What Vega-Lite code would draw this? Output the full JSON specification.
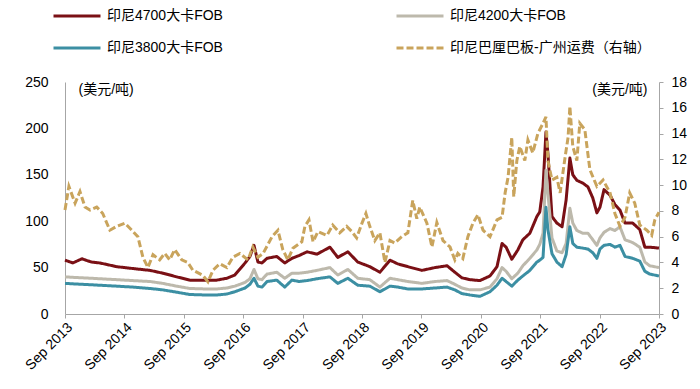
{
  "$schema": "https://vega.github.io/schema/vega-lite/v6.json",
  "width": 594,
  "height": 232,
  "autosize": {"type": "none"},
  "padding": {"left": 65, "top": 82, "right": 41, "bottom": 75},
  "config": {
    "view": {"stroke": null},
    "font": "Liberation Sans, Noto Sans CJK SC",
    "axis": {"labelFont": "Liberation Sans, Noto Sans CJK SC", "titleFont": "Liberation Sans, Noto Sans CJK SC", "labelColor": "#000000", "titleColor": "#000000", "domainColor": "#A6A6A6", "tickColor": "#A6A6A6", "grid": false, "labelFontSize": 14, "titleFontSize": 14, "titleFontWeight": "normal"},
    "legend": {"labelFont": "Liberation Sans, Noto Sans CJK SC", "labelFontSize": 14, "labelColor": "#000000", "labelLimit": 320}
  },
  "datasets": {
    "coal": [
      {"date": "2013-09-01", "印尼4700大卡FOB": 58, "印尼4200大卡FOB": 40, "印尼3800大卡FOB": 33},
      {"date": "2013-10-19", "印尼4700大卡FOB": 55, "印尼4200大卡FOB": 39.5, "印尼3800大卡FOB": 32.5},
      {"date": "2013-12-14", "印尼4700大卡FOB": 59.5, "印尼4200大卡FOB": 39, "印尼3800大卡FOB": 32},
      {"date": "2014-02-10", "印尼4700大卡FOB": 56, "印尼4200大卡FOB": 38.5, "印尼3800大卡FOB": 31.5},
      {"date": "2014-04-03", "印尼4700大卡FOB": 55, "印尼4200大卡FOB": 38, "印尼3800大卡FOB": 31},
      {"date": "2014-07-16", "印尼4700大卡FOB": 51, "印尼4200大卡FOB": 37, "印尼3800大卡FOB": 30},
      {"date": "2014-10-23", "印尼4700大卡FOB": 49, "印尼4200大卡FOB": 36, "印尼3800大卡FOB": 29},
      {"date": "2015-02-06", "印尼4700大卡FOB": 47, "印尼4200大卡FOB": 35, "印尼3800大卡FOB": 27.5},
      {"date": "2015-04-25", "印尼4700大卡FOB": 44, "印尼4200大卡FOB": 33, "印尼3800大卡FOB": 26},
      {"date": "2015-07-20", "印尼4700大卡FOB": 40, "印尼4200大卡FOB": 30, "印尼3800大卡FOB": 23.5},
      {"date": "2015-10-08", "印尼4700大卡FOB": 36.5, "印尼4200大卡FOB": 27.5, "印尼3800大卡FOB": 21},
      {"date": "2016-01-09", "印尼4700大卡FOB": 36.5, "印尼4200大卡FOB": 27, "印尼3800大卡FOB": 20.5},
      {"date": "2016-03-22", "印尼4700大卡FOB": 36.5, "印尼4200大卡FOB": 27, "印尼3800大卡FOB": 20.5},
      {"date": "2016-05-23", "印尼4700大卡FOB": 38.5, "印尼4200大卡FOB": 28, "印尼3800大卡FOB": 21.5},
      {"date": "2016-07-11", "印尼4700大卡FOB": 42, "印尼4200大卡FOB": 30, "印尼3800大卡FOB": 24},
      {"date": "2016-09-12", "印尼4700大卡FOB": 55, "印尼4200大卡FOB": 34, "印尼3800大卡FOB": 28},
      {"date": "2016-10-12", "印尼4700大卡FOB": 62, "印尼4200大卡FOB": 38, "印尼3800大卡FOB": 32},
      {"date": "2016-11-06", "印尼4700大卡FOB": 74, "印尼4200大卡FOB": 48, "印尼3800大卡FOB": 38.5},
      {"date": "2016-11-30", "印尼4700大卡FOB": 56, "印尼4200大卡FOB": 38, "印尼3800大卡FOB": 30},
      {"date": "2016-12-25", "印尼4700大卡FOB": 55, "印尼4200大卡FOB": 37, "印尼3800大卡FOB": 29},
      {"date": "2017-01-25", "印尼4700大卡FOB": 60, "印尼4200大卡FOB": 43, "印尼3800大卡FOB": 35},
      {"date": "2017-03-26", "印尼4700大卡FOB": 62, "印尼4200大卡FOB": 45, "印尼3800大卡FOB": 36.5},
      {"date": "2017-05-14", "印尼4700大卡FOB": 55, "印尼4200大卡FOB": 38.5, "印尼3800大卡FOB": 29},
      {"date": "2017-06-27", "印尼4700大卡FOB": 60, "印尼4200大卡FOB": 44, "印尼3800大卡FOB": 36.5},
      {"date": "2017-08-10", "印尼4700大卡FOB": 63, "印尼4200大卡FOB": 44, "印尼3800大卡FOB": 35},
      {"date": "2017-09-28", "印尼4700大卡FOB": 67, "印尼4200大卡FOB": 45, "印尼3800大卡FOB": 36},
      {"date": "2017-11-28", "印尼4700大卡FOB": 64.5, "印尼4200大卡FOB": 47, "印尼3800大卡FOB": 38},
      {"date": "2018-02-16", "印尼4700大卡FOB": 72, "印尼4200大卡FOB": 50, "印尼3800大卡FOB": 40},
      {"date": "2018-04-05", "印尼4700大卡FOB": 61, "印尼4200大卡FOB": 42, "印尼3800大卡FOB": 33},
      {"date": "2018-06-06", "印尼4700大卡FOB": 67, "印尼4200大卡FOB": 48, "印尼3800大卡FOB": 38.5},
      {"date": "2018-08-06", "印尼4700大卡FOB": 56, "印尼4200大卡FOB": 38.5, "印尼3800大卡FOB": 31},
      {"date": "2018-10-19", "印尼4700大卡FOB": 51, "印尼4200大卡FOB": 37, "印尼3800大卡FOB": 30},
      {"date": "2018-12-20", "印尼4700大卡FOB": 45, "印尼4200大卡FOB": 29, "印尼3800大卡FOB": 24},
      {"date": "2019-02-20", "印尼4700大卡FOB": 58, "印尼4200大卡FOB": 38.5, "印尼3800大卡FOB": 30},
      {"date": "2019-04-09", "印尼4700大卡FOB": 54, "印尼4200大卡FOB": 37, "印尼3800大卡FOB": 29},
      {"date": "2019-06-10", "印尼4700大卡FOB": 51, "印尼4200大卡FOB": 35, "印尼3800大卡FOB": 27},
      {"date": "2019-09-04", "印尼4700大卡FOB": 47, "印尼4200大卡FOB": 33, "印尼3800大卡FOB": 27},
      {"date": "2019-11-23", "印尼4700大卡FOB": 50, "印尼4200大卡FOB": 35, "印尼3800大卡FOB": 28},
      {"date": "2020-02-06", "印尼4700大卡FOB": 52, "印尼4200大卡FOB": 36, "印尼3800大卡FOB": 29},
      {"date": "2020-03-25", "印尼4700大卡FOB": 45, "印尼4200大卡FOB": 32, "印尼3800大卡FOB": 26},
      {"date": "2020-05-07", "印尼4700大卡FOB": 39, "印尼4200大卡FOB": 28, "印尼3800大卡FOB": 22},
      {"date": "2020-06-25", "印尼4700大卡FOB": 37, "印尼4200大卡FOB": 26, "印尼3800大卡FOB": 20.5},
      {"date": "2020-08-26", "印尼4700大卡FOB": 36, "印尼4200大卡FOB": 26, "印尼3800大卡FOB": 19},
      {"date": "2020-10-27", "印尼4700大卡FOB": 41, "印尼4200大卡FOB": 29, "印尼3800大卡FOB": 24},
      {"date": "2020-12-09", "印尼4700大卡FOB": 51, "印尼4200大卡FOB": 38, "印尼3800大卡FOB": 31},
      {"date": "2021-01-09", "印尼4700大卡FOB": 76, "印尼4200大卡FOB": 50, "印尼3800大卡FOB": 38.5},
      {"date": "2021-02-03", "印尼4700大卡FOB": 72, "印尼4200大卡FOB": 46, "印尼3800大卡FOB": 35},
      {"date": "2021-03-10", "印尼4700大卡FOB": 59, "印尼4200大卡FOB": 38, "印尼3800大卡FOB": 30},
      {"date": "2021-04-16", "印尼4700大卡FOB": 69, "印尼4200大卡FOB": 44, "印尼3800大卡FOB": 36.5},
      {"date": "2021-05-17", "印尼4700大卡FOB": 80, "印尼4200大卡FOB": 52, "印尼3800大卡FOB": 41},
      {"date": "2021-06-29", "印尼4700大卡FOB": 87, "印尼4200大卡FOB": 60, "印尼3800大卡FOB": 47},
      {"date": "2021-08-11", "印尼4700大卡FOB": 105, "印尼4200大卡FOB": 69, "印尼3800大卡FOB": 56},
      {"date": "2021-08-29", "印尼4700大卡FOB": 110, "印尼4200大卡FOB": 75, "印尼3800大卡FOB": 58},
      {"date": "2021-09-18", "印尼4700大卡FOB": 137, "印尼4200大卡FOB": 87, "印尼3800大卡FOB": 61},
      {"date": "2021-10-06", "印尼4700大卡FOB": 196, "印尼4200大卡FOB": 155, "印尼3800大卡FOB": 115},
      {"date": "2021-10-18", "印尼4700大卡FOB": 173, "印尼4200大卡FOB": 130, "印尼3800大卡FOB": 91},
      {"date": "2021-11-12", "印尼4700大卡FOB": 105, "印尼4200大卡FOB": 82, "印尼3800大卡FOB": 65},
      {"date": "2021-12-12", "印尼4700大卡FOB": 98, "印尼4200大卡FOB": 68, "印尼3800大卡FOB": 56},
      {"date": "2022-01-13", "印尼4700大卡FOB": 94, "印尼4200大卡FOB": 66, "印尼3800大卡FOB": 51},
      {"date": "2022-02-07", "印尼4700大卡FOB": 123, "印尼4200大卡FOB": 76, "印尼3800大卡FOB": 64},
      {"date": "2022-03-02", "印尼4700大卡FOB": 168, "印尼4200大卡FOB": 114, "印尼3800大卡FOB": 94},
      {"date": "2022-03-20", "印尼4700大卡FOB": 150, "印尼4200大卡FOB": 98, "印尼3800大卡FOB": 76},
      {"date": "2022-04-14", "印尼4700大卡FOB": 144, "印尼4200大卡FOB": 90, "印尼3800大卡FOB": 72},
      {"date": "2022-05-21", "印尼4700大卡FOB": 141, "印尼4200大卡FOB": 87, "印尼3800大卡FOB": 71},
      {"date": "2022-06-21", "印尼4700大卡FOB": 137, "印尼4200大卡FOB": 87, "印尼3800大卡FOB": 70},
      {"date": "2022-07-21", "印尼4700大卡FOB": 125, "印尼4200大卡FOB": 80, "印尼3800大卡FOB": 66},
      {"date": "2022-08-15", "印尼4700大卡FOB": 109, "印尼4200大卡FOB": 74, "印尼3800大卡FOB": 60},
      {"date": "2022-09-03", "印尼4700大卡FOB": 115, "印尼4200大卡FOB": 82, "印尼3800大卡FOB": 70},
      {"date": "2022-09-28", "印尼4700大卡FOB": 134, "印尼4200大卡FOB": 88, "印尼3800大卡FOB": 74},
      {"date": "2022-11-04", "印尼4700大卡FOB": 128, "印尼4200大卡FOB": 92, "印尼3800大卡FOB": 75},
      {"date": "2022-12-04", "印尼4700大卡FOB": 118, "印尼4200大卡FOB": 90, "印尼3800大卡FOB": 72},
      {"date": "2023-01-04", "印尼4700大卡FOB": 112, "印尼4200大卡FOB": 94, "印尼3800大卡FOB": 74},
      {"date": "2023-02-04", "印尼4700大卡FOB": 98, "印尼4200大卡FOB": 80, "印尼3800大卡FOB": 62},
      {"date": "2023-03-23", "印尼4700大卡FOB": 98, "印尼4200大卡FOB": 77, "印尼3800大卡FOB": 60},
      {"date": "2023-05-06", "印尼4700大卡FOB": 91, "印尼4200大卡FOB": 72, "印尼3800大卡FOB": 57},
      {"date": "2023-06-06", "印尼4700大卡FOB": 72, "印尼4200大卡FOB": 56, "印尼3800大卡FOB": 46},
      {"date": "2023-07-06", "印尼4700大卡FOB": 72, "印尼4200大卡FOB": 52, "印尼3800大卡FOB": 43},
      {"date": "2023-09-01", "印尼4700大卡FOB": 71, "印尼4200大卡FOB": 50, "印尼3800大卡FOB": 41}
    ],
    "freight": [
      {"date": "2013-09-01", "value": 8.07}, {"date": "2013-09-25", "value": 9.9}, {"date": "2013-11-02", "value": 8.6},
      {"date": "2013-12-02", "value": 9.5}, {"date": "2014-01-02", "value": 8.3}, {"date": "2014-02-02", "value": 8.07},
      {"date": "2014-03-15", "value": 8.3}, {"date": "2014-04-21", "value": 7.8}, {"date": "2014-06-04", "value": 6.5},
      {"date": "2014-07-16", "value": 6.8}, {"date": "2014-09-04", "value": 7.05}, {"date": "2014-10-17", "value": 6.5},
      {"date": "2014-11-23", "value": 6.0}, {"date": "2014-12-24", "value": 4.4}, {"date": "2015-01-24", "value": 3.6},
      {"date": "2015-02-24", "value": 4.6}, {"date": "2015-04-06", "value": 4.2}, {"date": "2015-05-07", "value": 4.7},
      {"date": "2015-06-07", "value": 4.2}, {"date": "2015-07-07", "value": 5.0}, {"date": "2015-08-20", "value": 4.2},
      {"date": "2015-09-26", "value": 4.0}, {"date": "2015-10-27", "value": 3.4}, {"date": "2015-12-27", "value": 3.0},
      {"date": "2016-01-28", "value": 2.5}, {"date": "2016-02-28", "value": 3.4}, {"date": "2016-04-10", "value": 3.9},
      {"date": "2016-05-23", "value": 3.6}, {"date": "2016-06-29", "value": 4.4}, {"date": "2016-08-11", "value": 4.7},
      {"date": "2016-09-30", "value": 4.2}, {"date": "2016-10-30", "value": 5.2}, {"date": "2016-11-30", "value": 4.4},
      {"date": "2017-01-01", "value": 4.7}, {"date": "2017-02-25", "value": 6.0}, {"date": "2017-04-02", "value": 6.5},
      {"date": "2017-05-02", "value": 5.0}, {"date": "2017-06-02", "value": 4.2}, {"date": "2017-07-03", "value": 5.1},
      {"date": "2017-08-27", "value": 5.6}, {"date": "2017-09-15", "value": 6.8}, {"date": "2017-10-10", "value": 7.3},
      {"date": "2017-11-04", "value": 5.6}, {"date": "2017-12-04", "value": 6.4}, {"date": "2018-01-29", "value": 6.1},
      {"date": "2018-03-05", "value": 6.9}, {"date": "2018-04-17", "value": 6.3}, {"date": "2018-05-30", "value": 6.8},
      {"date": "2018-06-30", "value": 6.4}, {"date": "2018-07-30", "value": 5.9}, {"date": "2018-09-01", "value": 7.05},
      {"date": "2018-09-25", "value": 7.8}, {"date": "2018-10-19", "value": 6.8}, {"date": "2018-11-19", "value": 5.7},
      {"date": "2018-12-20", "value": 6.3}, {"date": "2019-01-20", "value": 4.0}, {"date": "2019-02-20", "value": 5.7},
      {"date": "2019-03-21", "value": 5.5}, {"date": "2019-05-03", "value": 6.0}, {"date": "2019-06-10", "value": 6.3},
      {"date": "2019-07-10", "value": 8.8}, {"date": "2019-08-04", "value": 7.4}, {"date": "2019-08-22", "value": 8.3},
      {"date": "2019-10-05", "value": 7.05}, {"date": "2019-11-05", "value": 5.2}, {"date": "2019-12-05", "value": 7.1},
      {"date": "2020-01-12", "value": 5.7}, {"date": "2020-02-24", "value": 5.2}, {"date": "2020-03-25", "value": 4.2},
      {"date": "2020-04-12", "value": 4.7}, {"date": "2020-05-13", "value": 4.3}, {"date": "2020-06-13", "value": 6.0},
      {"date": "2020-07-14", "value": 7.05}, {"date": "2020-08-14", "value": 7.7}, {"date": "2020-09-14", "value": 6.5},
      {"date": "2020-10-27", "value": 6.0}, {"date": "2020-12-09", "value": 7.3}, {"date": "2021-01-09", "value": 7.5},
      {"date": "2021-01-28", "value": 9.4}, {"date": "2021-02-15", "value": 10.6}, {"date": "2021-03-10", "value": 13.7},
      {"date": "2021-03-22", "value": 9.1}, {"date": "2021-04-10", "value": 11.9}, {"date": "2021-04-28", "value": 13.0},
      {"date": "2021-05-29", "value": 11.9}, {"date": "2021-06-17", "value": 13.5}, {"date": "2021-07-17", "value": 12.5},
      {"date": "2021-08-17", "value": 14.0}, {"date": "2021-09-18", "value": 14.8}, {"date": "2021-10-06", "value": 15.3},
      {"date": "2021-10-18", "value": 11.9}, {"date": "2021-11-12", "value": 10.4}, {"date": "2021-12-12", "value": 10.6},
      {"date": "2022-01-01", "value": 9.4}, {"date": "2022-02-01", "value": 12.2}, {"date": "2022-02-19", "value": 13.7},
      {"date": "2022-03-02", "value": 16.1}, {"date": "2022-03-20", "value": 13.0}, {"date": "2022-04-14", "value": 11.9},
      {"date": "2022-05-02", "value": 14.8}, {"date": "2022-06-02", "value": 14.3}, {"date": "2022-07-03", "value": 11.2},
      {"date": "2022-08-15", "value": 9.9}, {"date": "2022-09-22", "value": 10.4}, {"date": "2022-11-04", "value": 9.4},
      {"date": "2022-12-04", "value": 7.8}, {"date": "2023-01-04", "value": 6.8}, {"date": "2023-02-04", "value": 7.5},
      {"date": "2023-03-05", "value": 9.4}, {"date": "2023-04-05", "value": 8.6}, {"date": "2023-05-06", "value": 6.9},
      {"date": "2023-06-18", "value": 6.5}, {"date": "2023-07-18", "value": 6.1}, {"date": "2023-08-06", "value": 7.3},
      {"date": "2023-09-01", "value": 7.9}
    ]
  },
  "layer": [
    {
      "data": {"name": "coal"},
      "transform": [{"fold": ["印尼4700大卡FOB", "印尼4200大卡FOB", "印尼3800大卡FOB"], "as": ["series", "value"]}],
      "mark": {"type": "line", "strokeWidth": 3, "strokeJoin": "round"},
      "encoding": {
        "x": {
          "field": "date", "type": "temporal",
          "scale": {"domain": [{"year": 2013, "month": 9, "date": 1}, {"year": 2023, "month": 9, "date": 1}]},
          "axis": {
            "title": null, "format": "%b %Y", "labelAngle": -45, "tickSize": 4, "labelPadding": 2,
            "values": [{"year": 2013, "month": 9, "date": 1}, {"year": 2014, "month": 9, "date": 1}, {"year": 2015, "month": 9, "date": 1}, {"year": 2016, "month": 9, "date": 1}, {"year": 2017, "month": 9, "date": 1}, {"year": 2018, "month": 9, "date": 1}, {"year": 2019, "month": 9, "date": 1}, {"year": 2020, "month": 9, "date": 1}, {"year": 2021, "month": 9, "date": 1}, {"year": 2022, "month": 9, "date": 1}, {"year": 2023, "month": 9, "date": 1}]
          }
        },
        "y": {
          "field": "value", "type": "quantitative",
          "scale": {"domain": [0, 250]},
          "axis": {"title": "(美元/吨)", "titleAngle": 0, "titleX": 13, "titleY": 7, "titleAlign": "left", "titleBaseline": "middle", "values": [0, 50, 100, 150, 200, 250], "ticks": false, "labelPadding": 17}
        },
        "color": {
          "field": "series", "type": "nominal",
          "scale": {"domain": ["印尼4700大卡FOB", "印尼4200大卡FOB", "印尼3800大卡FOB", "印尼巴厘巴板-广州运费（右轴）"], "range": ["#7A1015", "#BDB9AC", "#3C8FA3", "#C9A45C"]},
          "legend": {"title": null, "orient": "none", "direction": "horizontal", "legendX": -13, "legendY": -91, "columns": 2, "columnPadding": 167, "rowPadding": -33, "symbolType": "stroke", "symbolSize": 2209, "symbolStrokeWidth": 3, "labelOffset": 5}
        },
        "strokeDash": {
          "field": "series", "type": "nominal",
          "scale": {"domain": ["印尼4700大卡FOB", "印尼4200大卡FOB", "印尼3800大卡FOB", "印尼巴厘巴板-广州运费（右轴）"], "range": [[1, 0], [1, 0], [1, 0], [7, 3]]},
          "legend": {"title": null, "orient": "none", "direction": "horizontal", "legendX": -13, "legendY": -91, "columns": 2, "columnPadding": 167, "rowPadding": -33, "symbolType": "stroke", "symbolSize": 2209, "symbolStrokeWidth": 3, "labelOffset": 5}
        }
      }
    },
    {
      "data": {"name": "freight"},
      "mark": {"type": "line", "strokeWidth": 3},
      "encoding": {
        "x": {"field": "date", "type": "temporal"},
        "y": {
          "field": "value", "type": "quantitative",
          "scale": {"domain": [0, 18]},
          "axis": {"orient": "right", "title": "(美元/吨)", "titleAngle": 0, "titleX": -12, "titleY": 7, "titleAlign": "right", "titleBaseline": "middle", "values": [0, 2, 4, 6, 8, 10, 12, 14, 16, 18], "tickSize": 4, "labelPadding": 8}
        },
        "color": {"datum": "印尼巴厘巴板-广州运费（右轴）"},
        "strokeDash": {"datum": "印尼巴厘巴板-广州运费（右轴）"}
      }
    }
  ],
  "resolve": {"scale": {"y": "independent"}}
}
